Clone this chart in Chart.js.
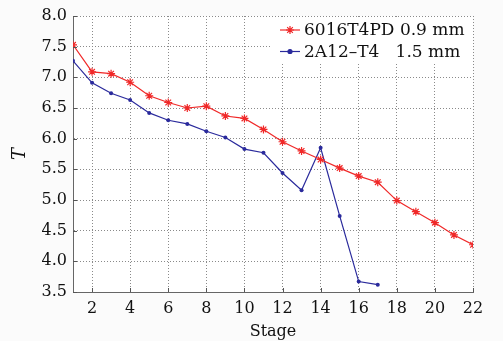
<!DOCTYPE html>
<html>
<head>
<meta charset="utf-8">
<script src="https://cdn.jsdelivr.net/npm/chart.js@4/dist/chart.umd.min.js"></script>
<style>
	html, body { margin: 0; padding: 0; background: #fbfbfb; }
	#wrap { width: 503px; height: 341px; }
</style>
</head>
<body>
<div id="wrap"><canvas id="Stages" width="503" height="341"></canvas></div>
<script>
const stages = [1, 2, 3, 4, 5, 6, 7, 8, 9, 10, 11, 12, 13, 14, 15, 16, 17, 18, 19, 20, 21, 22];
const redValues = [7.53, 7.09, 7.06, 6.92, 6.70, 6.59, 6.50, 6.53, 6.37, 6.33, 6.15, 5.95, 5.80, 5.66, 5.52, 5.39, 5.29, 4.99, 4.81, 4.63, 4.43, 4.27];
const blueValues = [7.27, 6.91, 6.74, 6.63, 6.42, 6.30, 6.24, 6.12, 6.02, 5.83, 5.77, 5.44, 5.16, 5.85, 4.74, 3.67, 3.62];
const xTicks = [2, 4, 6, 8, 10, 12, 14, 16, 18, 20, 22];
const labels = ['6016T4PD 0.9 mm', '2A12\u2013T4   1.5 mm'];

const red = '#f02828';
const blue = '#2a2a9c';
const font = '"DejaVu Serif", serif';

const ctx = document.getElementById('Stages').getContext('2d');

// legend box in the top right corner + inward tick marks, like matlab
const extras = {
	id: 'extras',
	afterDraw(chart) {
		const c = chart.ctx;
		const area = chart.chartArea;
		const xs = chart.scales.x;
		const ys = chart.scales.y;
		c.save();

		c.strokeStyle = '#555';
		c.lineWidth = 1;
		c.beginPath();
		for (const v of xTicks) {
			const px = Math.round(xs.getPixelForValue(v)) + 0.5;
			c.moveTo(px, area.bottom);
			c.lineTo(px, area.bottom - 4);
		}
		for (const t of ys.ticks) {
			const py = Math.round(ys.getPixelForValue(t.value)) + 0.5;
			c.moveTo(area.left, py);
			c.lineTo(area.left + 4, py);
		}
		c.stroke();

		const bx = 272, by = 17, bw = area.right - 272 - 1, bh = 45;
		c.fillStyle = '#ffffff';
		c.fillRect(bx, by, bw, bh);

		const rows = [
			{text: labels[0], color: red, style: 'star', r: 4},
			{text: labels[1], color: blue, style: 'circle', r: 2}
		];
		rows.forEach((row, i) => {
			const y = 30 + i * 21.5;
			c.strokeStyle = row.color;
			c.lineWidth = 1.2;
			c.beginPath();
			c.moveTo(280, y);
			c.lineTo(300, y);
			c.stroke();
			c.fillStyle = row.color;
			Chart.helpers.drawPoint(c, {pointStyle: row.style, radius: row.r, borderWidth: 1.2, rotation: 0}, 290, y);
			c.fillStyle = '#111';
			c.font = '17px ' + font;
			c.textBaseline = 'middle';
			c.textAlign = 'left';
			c.fillText(row.text, 304, y + 1);
		});
		c.restore();
	}
};

const bg = {
	id: 'bg',
	beforeDraw(chart) {
		const c = chart.ctx;
		c.save();
		c.fillStyle = '#fbfbfb';
		c.fillRect(0, 0, chart.width, chart.height);
		c.fillStyle = '#ffffff';
		const a = chart.chartArea;
		c.fillRect(a.left, a.top, a.right - a.left, a.bottom - a.top);
		c.restore();
	}
};

window.stageChart = new Chart(ctx, {
	type: 'line',
	data: {
		datasets: [{
			label: labels[0],
			data: stages.map((s, i) => ({x: s, y: redValues[i]})),
			borderColor: red,
			backgroundColor: red,
			borderWidth: 1.2,
			pointStyle: 'star',
			pointRadius: 4,
			pointBorderWidth: 1.2,
			tension: 0
		}, {
			label: labels[1],
			data: blueValues.map((v, i) => ({x: stages[i], y: v})),
			borderColor: blue,
			backgroundColor: blue,
			borderWidth: 1.2,
			pointStyle: 'circle',
			pointRadius: 2,
			pointBorderWidth: 0,
			tension: 0
		}]
	},
	options: {
		responsive: false,
		animation: false,
		layout: {
			padding: {top: 16, right: 30, left: 0, bottom: 0}
		},
		plugins: {
			legend: {display: false},
			tooltip: {enabled: false}
		},
		scales: {
			x: {
				type: 'linear',
				min: 1,
				max: 22,
				afterBuildTicks: (scale) => {
					scale.ticks = xTicks.map(v => ({value: v}));
				},
				afterFit: (scale) => {
					scale.height = 49;
				},
				border: {display: true, color: '#666', width: 1, dash: [1, 2]},
				grid: {
					color: '#8a8a8a',
					lineWidth: 1,
					drawTicks: false
				},
				ticks: {
					color: '#111',
					padding: 7,
					maxRotation: 0,
					font: {family: font, size: 16}
				},
				title: {
					display: true,
					text: 'Stage',
					color: '#111',
					padding: {top: 0, bottom: 0},
					font: {family: font, size: 16}
				}
			},
			y: {
				min: 3.5,
				max: 8.0,
				afterFit: (scale) => {
					scale.width = 73;
				},
				border: {display: true, color: '#666', width: 1, dash: [1, 2]},
				grid: {
					color: '#8a8a8a',
					lineWidth: 1,
					drawTicks: false
				},
				ticks: {
					stepSize: 0.5,
					color: '#111',
					padding: 6,
					callback: (v) => v.toFixed(1),
					font: {family: font, size: 16}
				},
				title: {
					display: true,
					text: 'T',
					color: '#111',
					padding: {top: 10, bottom: 0},
					font: {family: font, size: 18, style: 'italic'}
				}
			}
		}
	},
	plugins: [bg, extras]
});
</script>
</body>
</html>
